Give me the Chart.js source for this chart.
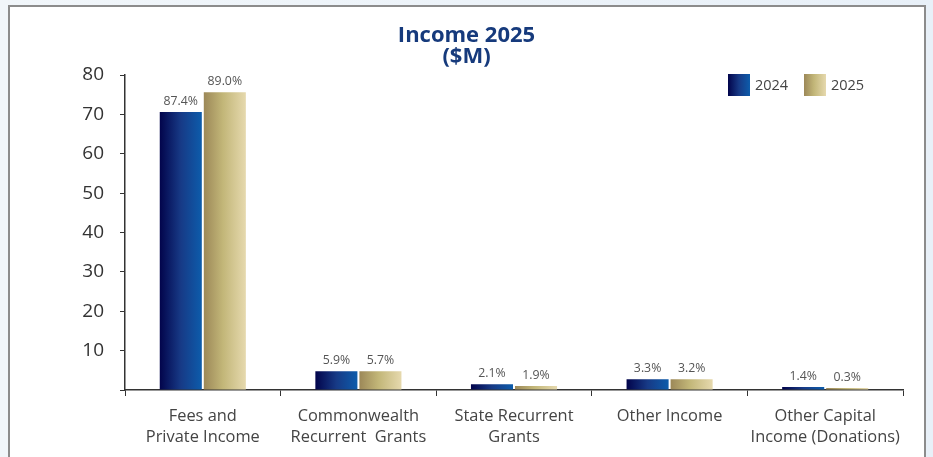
<!DOCTYPE html>
<html>
<head>
<meta charset="utf-8">
<script src="https://cdn.jsdelivr.net/npm/chart.js@4"></script>
<style>
html,body{margin:0;padding:0}
body{width:933px;height:457px;overflow:hidden;background:linear-gradient(90deg,#f1f6fa,#e8f0f8);position:relative;font-family:"Open Sans",sans-serif}
#card{position:absolute;left:8px;top:5px;width:914px;height:470px;background:#fff;border:2px solid #8c8c8c;border-bottom:none}
#wrap{position:absolute;left:0;top:0;width:933px;height:457px}
</style>
</head>
<body>
<div id="card"></div>
<div id="wrap"><canvas id="income" width="933" height="457"></canvas></div>
<script>
// categories and values ($M)
const categories=[
["Fees and","Private Income"],
["Commonwealth","Recurrent  Grants"],
["State Recurrent","Grants"],
["Other Income"],
["Other Capital","Income (Donations)"]
]
const seriesNames=["2024","2025"]
const values2024=[70.6,4.75,1.45,2.7,0.75]
const values2025=[75.6,4.75,1.0,2.75,0.5]
const pct2024=["87.4%","5.9%","2.1%","3.3%","1.4%"]
const pct2025=["89.0%","5.7%","1.9%","3.2%","0.3%"]
const yMax=80
const yStep=10

const stops=[
[[0,"#02044b"],[0.5,"#173a86"],[1,"#0d5cab"]],
[[0,"#9c8858"],[0.45,"#c2b678"],[1,"#e6d9ae"]]
]

function grad(ctx,x0,x1,s){
let g=ctx.createLinearGradient(x0,0,x1,0)
s.forEach(p=>g.addColorStop(p[0],p[1]))
return g
}

// give each bar its own horizontal gradient
const barGradients={
id:"barGradients",
beforeDatasetsDraw(chart){
const ctx=chart.ctx
chart.data.datasets.forEach((ds,di)=>{
chart.getDatasetMeta(di).data.forEach(bar=>{
let x0=bar.x-bar.width/2
let x1=bar.x+bar.width/2
bar.options=Object.assign({},bar.options,{backgroundColor:grad(ctx,x0,x1,stops[di])})
})
})
}
}

// percentage labels above bars
const pctLabels={
id:"pctLabels",
afterDatasetsDraw(chart){
const ctx=chart.ctx
const labs=[pct2024,pct2025]
ctx.save()
ctx.font="12.3px 'Open Sans'"
ctx.fillStyle="#555"
ctx.textAlign="center"
ctx.textBaseline="alphabetic"
chart.data.datasets.forEach((ds,di)=>{
chart.getDatasetMeta(di).data.forEach((bar,i)=>{
ctx.fillText(labs[di][i],bar.x,bar.y-7)
})
})
ctx.restore()
}
}

// legend inside the plot, top right
const insideLegend={
id:"insideLegend",
afterDraw(chart){
const ctx=chart.ctx
const xs=[728,804]
ctx.save()
ctx.font="14.5px 'Open Sans'"
ctx.textBaseline="middle"
seriesNames.forEach((n,i)=>{
ctx.fillStyle=grad(ctx,xs[i],xs[i]+22,stops[i])
ctx.fillRect(xs[i],74,22,22)
ctx.fillStyle="#444"
ctx.fillText(n,xs[i]+27,86)
})
ctx.restore()
}
}

new Chart(document.getElementById("income"),{
type:"bar",
data:{
labels:categories,
datasets:[
{label:seriesNames[0],data:values2024,backgroundColor:"#0d3a86"},
{label:seriesNames[1],data:values2025,backgroundColor:"#c2b678"}
]
},
options:{
responsive:false,
animation:false,
devicePixelRatio:1,
layout:{padding:0},
datasets:{bar:{categoryPercentage:0.566,barPercentage:0.955}},
plugins:{
legend:{display:false},
tooltip:{enabled:false},
title:{
display:true,
text:["Income 2025","($M)"],
color:"#163a7c",
font:{family:"'Open Sans'",size:22,weight:"bold",lineHeight:0.95},
padding:{top:25.5,bottom:7.7}
}
},
scales:{
x:{
grid:{display:true,drawOnChartArea:false,drawTicks:true,tickLength:6,color:"#333",offset:true},
border:{color:"#333",width:1.5},
ticks:{color:"#444",font:{family:"'Open Sans'",size:16.4,lineHeight:1.28},padding:9.5,maxRotation:0,autoSkip:false},
afterFit(s){s.height=67}
},
y:{
min:0,
max:yMax,
grid:{display:true,drawOnChartArea:false,drawTicks:true,tickLength:5,color:"#333"},
border:{color:"#333",width:1.5},
ticks:{stepSize:yStep,color:"#333",font:{family:"'Open Sans'",size:19},padding:16,callback:v=>v===0?"":v},
afterFit(s){s.width=125}
},
// empty right margin so the title stays centred on the page
yRight:{
position:"right",
grid:{display:false},
border:{display:false},
ticks:{display:false},
afterFit(s){s.width=30}
}
}
},
plugins:[barGradients,pctLabels,insideLegend]
})
</script>
</body>
</html>
